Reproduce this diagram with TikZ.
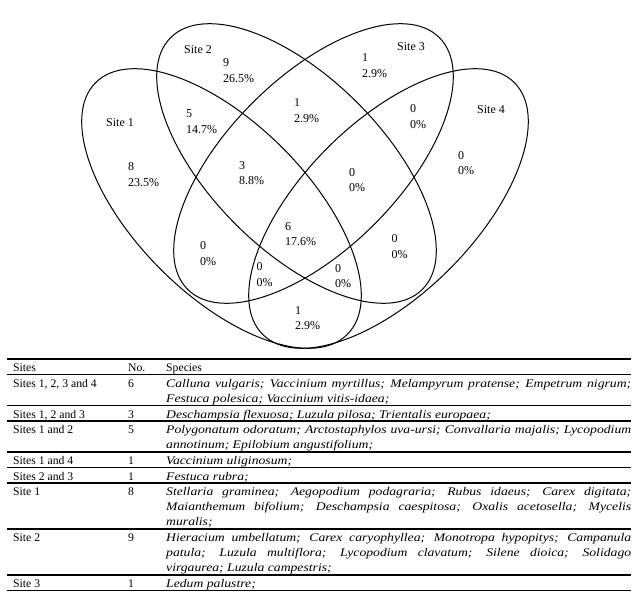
\documentclass[tikz,border=0pt]{standalone}
\usepackage{fontspec}
\setmainfont{Liberation Serif}
\newfontfamily\spfont[FakeStretch=1.17]{Liberation Serif}
\usetikzlibrary{shapes.geometric}
\newcommand\vlab{\fontsize{12}{15.5}\selectfont}
\newcommand\tabf{\fontsize{11.7}{15}\selectfont}
\newcommand\spec{\spfont\itshape\fontsize{11.7}{15}\selectfont}
\newcommand\nv[2]{\begin{tabular}[t]{@{}l@{}}#1\\#2\end{tabular}}
\newcommand\spl[1]{\makebox[465pt][s]{#1}}
\newcommand\spc[1]{\parbox[t]{465pt}{\spec #1}}
\begin{document}
\begin{tikzpicture}[x=1pt,y=-1pt,
  venn/.style={draw, ellipse, minimum width=356pt, minimum height=172pt,
    inner sep=0pt, outer sep=0pt, line width=1pt},
  sitelab/.style={font=\vlab, inner sep=0pt},
  cnt/.style={font=\vlab, inner sep=0pt, anchor=base west},
  cell/.style={font=\tabf, inner sep=0pt, anchor=base west},
  rulex/.style={line width=1.1pt}]
\useasboundingbox (0,0) rectangle (637,599);
% Venn ellipses
\node[venn, rotate=-45] (s1) at (221.5,208.5) {};
\node[venn, rotate=-45] (s2) at (296.5,163.5) {};
\node[venn, rotate=45] (s3) at (313.5,163.5) {};
\node[venn, rotate=45] (s4) at (388.5,208.5) {};
% set labels
\node[sitelab] (l1) at (120,123) {Site 1};
\node[sitelab] (l2) at (198,50) {Site 2};
\node[sitelab] (l3) at (411,47) {Site 3};
\node[sitelab] (l4) at (491,110) {Site 4};
% region counts
\node[cnt] (c1) at (128,171) {\nv{8}{23.5\%}};
\node[cnt] (c2) at (223,67) {\nv{9}{26.5\%}};
\node[cnt] (c3) at (362,62) {\nv{1}{2.9\%}};
\node[cnt] (c4) at (458,159.5) {\nv{0}{0\%}};
\node[cnt] (c12) at (186,118) {\nv{5}{14.7\%}};
\node[cnt] (c23) at (294,107) {\nv{1}{2.9\%}};
\node[cnt] (c34) at (410,113) {\nv{0}{0\%}};
\node[cnt] (c123) at (239,169) {\nv{3}{8.8\%}};
\node[cnt] (c234) at (349,176) {\nv{0}{0\%}};
\node[cnt] (c1234) at (285,230) {\nv{6}{17.6\%}};
\node[cnt] (c13) at (200,249.5) {\nv{0}{0\%}};
\node[cnt] (c24) at (391.5,242.5) {\nv{0}{0\%}};
\node[cnt] (c134) at (256.5,270.5) {\nv{0}{0\%}};
\node[cnt] (c124) at (335,272) {\nv{0}{0\%}};
\node[cnt] (c14) at (295,314) {\nv{1}{2.9\%}};
% table rules
\foreach \yy in {359,374.5,405.5,421,452,467.5,483,529,575,590.5}
  \draw[rulex] (7,\yy) -- (631,\yy);
% header
\node[cell] (h1) at (13,371.5) {Sites};
\node[cell] (h2) at (128,371.5) {No.};
\node[cell] (h3) at (166,371.5) {Species};
% row 1
\node[cell] (a1) at (13,387) {Sites 1, 2, 3 and 4};
\node[cell] (b1) at (128,387) {6};
\node[cell] (p1) at (166,387) {\spc{\spl{Calluna vulgaris; Vaccinium myrtillus; Melampyrum pratense; Empetrum nigrum;}\\Festuca polesica; Vaccinium vitis-idaea;}};
% row 2
\node[cell] (a2) at (13,418) {Sites 1, 2 and 3};
\node[cell] (b2) at (128,418) {3};
\node[cell] (p2) at (166,418) {\spc{Deschampsia flexuosa; Luzula pilosa; Trientalis europaea;}};
% row 3
\node[cell] (a3) at (13,433.5) {Sites 1 and 2};
\node[cell] (b3) at (128,433.5) {5};
\node[cell] (p3) at (166,433.5) {\spc{\spl{Polygonatum odoratum; Arctostaphylos uva-ursi; Convallaria majalis; Lycopodium}\\annotinum; Epilobium angustifolium;}};
% row 4
\node[cell] (a4) at (13,464.5) {Sites 1 and 4};
\node[cell] (b4) at (128,464.5) {1};
\node[cell] (p4) at (166,464.5) {\spc{Vaccinium uliginosum;}};
% row 5
\node[cell] (a5) at (13,480) {Sites 2 and 3};
\node[cell] (b5) at (128,480) {1};
\node[cell] (p5) at (166,480) {\spc{Festuca rubra;}};
% row 6
\node[cell] (a6) at (13,495.5) {Site 1};
\node[cell] (b6) at (128,495.5) {8};
\node[cell] (p6) at (166,495.5) {\spc{\spl{Stellaria graminea; Aegopodium podagraria; Rubus idaeus; Carex digitata;}\\\spl{Maianthemum bifolium; Deschampsia caespitosa; Oxalis acetosella; Mycelis}\\muralis;}};
% row 7
\node[cell] (a7) at (13,541.5) {Site 2};
\node[cell] (b7) at (128,541.5) {9};
\node[cell] (p7) at (166,541.5) {\spc{\spl{Hieracium umbellatum; Carex caryophyllea; Monotropa hypopitys; Campanula}\\\spl{patula; Luzula multiflora; Lycopodium clavatum; Silene dioica; Solidago}\\virgaurea; Luzula campestris;}};
% row 8
\node[cell] (a8) at (13,587.5) {Site 3};
\node[cell] (b8) at (128,587.5) {1};
\node[cell] (p8) at (166,587.5) {\spc{Ledum palustre;}};
\end{tikzpicture}
\end{document}
